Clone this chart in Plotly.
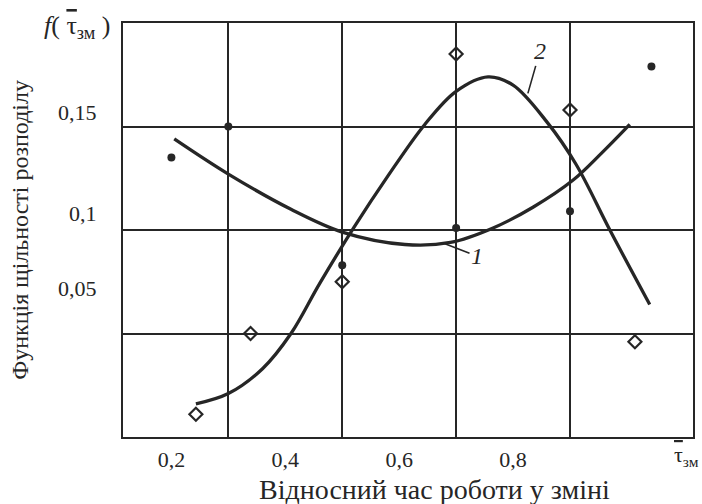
import plotly.graph_objects as go

# Curve 1 (smoothed density, U-shaped)
curve1_x = [0.205, 0.30, 0.41, 0.50, 0.61, 0.69, 0.765, 0.835, 0.905, 0.955, 1.005]
curve1_y = [0.144, 0.127, 0.110, 0.099, 0.093, 0.094, 0.101, 0.111, 0.124, 0.137, 0.151]

# Curve 2 (smoothed density, bell-shaped)
curve2_x = [0.243, 0.30, 0.36, 0.41, 0.46, 0.52, 0.58, 0.645, 0.70,
            0.756, 0.80, 0.86, 0.91, 0.97, 1.04]
curve2_y = [0.016, 0.021, 0.033, 0.050, 0.074, 0.101, 0.126, 0.151, 0.167,
            0.174, 0.170, 0.152, 0.132, 0.100, 0.064]

# Experimental points (series 1 - filled dots, series 2 - open diamonds)
dots_x = [0.2, 0.3, 0.5, 0.7, 0.9, 1.043]
dots_y = [0.135, 0.150, 0.083, 0.101, 0.109, 0.179]
diam_x = [0.243, 0.339, 0.5, 0.7, 0.9, 1.014]
diam_y = [0.011, 0.050, 0.075, 0.185, 0.158, 0.046]

# Axis labelling
x_tick_vals = [0.2, 0.4, 0.6, 0.8]
x_tick_text = ["0,2", "0,4", "0,6", "0,8"]
x_grid_vals = [0.3, 0.5, 0.7, 0.9]
y_tick_vals = [0.072, 0.108, 0.157]
y_tick_text = ["0,05", "0,1", "0,15"]
y_grid_vals = [0.05, 0.10, 0.15]

INK = "#262626"
FONT = "Liberation Serif, Times New Roman, serif"

fig = go.Figure()
fig.add_trace(go.Scatter(x=curve1_x, y=curve1_y, mode="lines",
                         line=dict(color=INK, width=3.3, shape="spline", smoothing=1.0),
                         hoverinfo="skip", showlegend=False))
fig.add_trace(go.Scatter(x=curve2_x, y=curve2_y, mode="lines",
                         line=dict(color=INK, width=3.3, shape="spline", smoothing=1.0),
                         hoverinfo="skip", showlegend=False))
fig.add_trace(go.Scatter(x=dots_x, y=dots_y, mode="markers",
                         marker=dict(symbol="circle", size=8, color=INK),
                         showlegend=False))
fig.add_trace(go.Scatter(x=diam_x, y=diam_y, mode="markers",
                         marker=dict(symbol="diamond-open", size=10, color=INK,
                                     line=dict(width=2.2, color=INK)),
                         showlegend=False))

axis_common = dict(showline=True, linecolor=INK, linewidth=2, mirror=True,
                   zeroline=False, showgrid=False, ticks="", automargin=False,
                   tickfont=dict(family=FONT, size=22, color=INK))

fig.update_xaxes(range=[0.115, 1.116], tickmode="array", tickvals=x_tick_vals,
                 ticktext=x_tick_text, ticklabelstandoff=2,
                 minor=dict(tickmode="array", tickvals=x_grid_vals, showgrid=True,
                            gridcolor=INK, gridwidth=1.6, ticks=""),
                 **axis_common)
fig.update_yaxes(range=[0, 0.2], tickmode="array", tickvals=y_tick_vals,
                 ticktext=y_tick_text, ticklabelstandoff=20,
                 minor=dict(tickmode="array", tickvals=y_grid_vals, showgrid=True,
                            gridcolor=INK, gridwidth=1.6, ticks=""),
                 **axis_common)

OVER = "<span style='text-decoration:overline'>τ</span>"

annotations = [
    dict(text="Відносний час роботи у зміні", xref="paper", yref="paper",
         x=0.547, y=-0.126, showarrow=False, xanchor="center", yanchor="middle",
         font=dict(family=FONT, size=28, color=INK)),
    dict(text="Функція щільності розподілу", xref="paper", yref="paper",
         x=-0.181, y=0.5, showarrow=False, textangle=-90, xanchor="center",
         yanchor="middle", font=dict(family=FONT, size=24, color=INK)),
    dict(text="<i>f</i>( " + OVER + "<sub>зм</sub> )", xref="paper", yref="paper",
         x=-0.08, y=0.99, showarrow=False, xanchor="center", yanchor="middle",
         font=dict(family=FONT, size=26, color=INK)),
    dict(text=OVER + "<sub>зм</sub>", xref="paper", yref="paper",
         x=0.963, y=-0.045, showarrow=False, xanchor="left", yanchor="middle",
         font=dict(family=FONT, size=22, color=INK)),
    dict(text="<i>1</i>", x=0.677, y=0.0937, xref="x", yref="y",
         ax=34, ay=13, showarrow=True, arrowhead=0, arrowwidth=1.6, arrowcolor=INK,
         font=dict(family=FONT, size=24, color=INK)),
    dict(text="<i>2</i>", x=0.826, y=0.166, xref="x", yref="y",
         ax=12, ay=-42, showarrow=True, arrowhead=0, arrowwidth=1.6, arrowcolor=INK,
         font=dict(family=FONT, size=24, color=INK)),
]

fig.update_layout(width=702, height=504,
                  margin=dict(l=123, r=9, t=23, b=67),
                  paper_bgcolor="white", plot_bgcolor="white",
                  annotations=annotations, showlegend=False)

fig.write_html("out.html", config={"displayModeBar": False},
               post_script="document.body.style.margin='0';")
